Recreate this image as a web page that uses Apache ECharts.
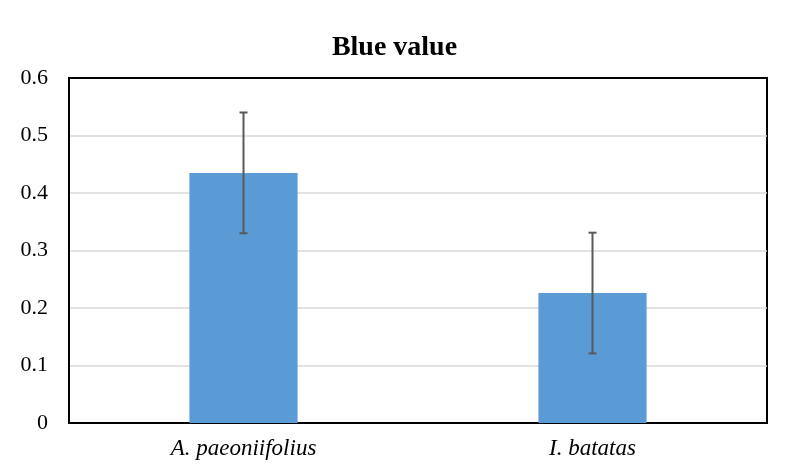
<!DOCTYPE html>
<html><head><meta charset="utf-8">
<script src="https://cdn.jsdelivr.net/npm/echarts@6/dist/echarts.min.js"></script>
<style>html,body{margin:0;padding:0;background:#fff}#c{width:789px;height:472px}</style>
</head><body><div id="c"></div>
<script>
const categories = ['A. paeoniifolius', 'I. batatas'];
const values = [0.435, 0.226];
const errors = [0.105, 0.105];
const yTicks = [0, 0.1, 0.2, 0.3, 0.4, 0.5, 0.6];

const chart = echarts.init(document.getElementById('c'));
const serif = '"Liberation Serif", "Times New Roman", serif';
chart.setOption({
  animation: false,
  backgroundColor: '#fff',
  title: {
    text: 'Blue value', left: 'center', top: 29,
    textStyle: { fontFamily: serif, fontWeight: 'bold', fontSize: 28, color: '#000' }
  },
  grid: { left: 69, right: 22, top: 78, bottom: 49, show: true, borderColor: '#000', borderWidth: 2, backgroundColor: 'transparent' },
  xAxis: {
    type: 'category', data: categories,
    axisLine: { show: true, lineStyle: { color: '#000', width: 2 } },
    axisTick: { show: false },
    axisLabel: { fontFamily: serif, fontStyle: 'italic', fontSize: 23, color: '#000', margin: 14 }
  },
  yAxis: {
    type: 'value', min: yTicks[0], max: yTicks[yTicks.length - 1], interval: 0.1,
    axisLine: { show: true, lineStyle: { color: '#000', width: 2 } },
    axisTick: { show: false },
    splitLine: { showMaxLine: false, showMinLine: false, lineStyle: { color: '#d9d9d9', width: 1.5 } },
    axisLabel: { fontFamily: serif, fontSize: 22, color: '#000', margin: 21,
      formatter: v => String(Math.round(v * 10) / 10) }
  },
  series: [
    {
      type: 'bar', data: values, barWidth: '31%',
      itemStyle: { color: '#5b9bd5' }, z: 2
    },
    {
      type: 'custom', z: 5,
      data: values.map((v, i) => [i, v - errors[i], v + errors[i]]),
      renderItem: function (params, api) {
        const x = api.value(0);
        const lo = api.coord([x, api.value(1)]);
        const hi = api.coord([x, api.value(2)]);
        const cap = 4;
        const style = { stroke: '#595959', lineWidth: 2 };
        return {
          type: 'group',
          children: [
            { type: 'line', shape: { x1: lo[0], y1: lo[1], x2: hi[0], y2: hi[1] }, style },
            { type: 'line', shape: { x1: hi[0] - cap, y1: hi[1], x2: hi[0] + cap, y2: hi[1] }, style },
            { type: 'line', shape: { x1: lo[0] - cap, y1: lo[1], x2: lo[0] + cap, y2: lo[1] }, style }
          ]
        };
      }
    }
  ]
});
</script>
</body></html>
